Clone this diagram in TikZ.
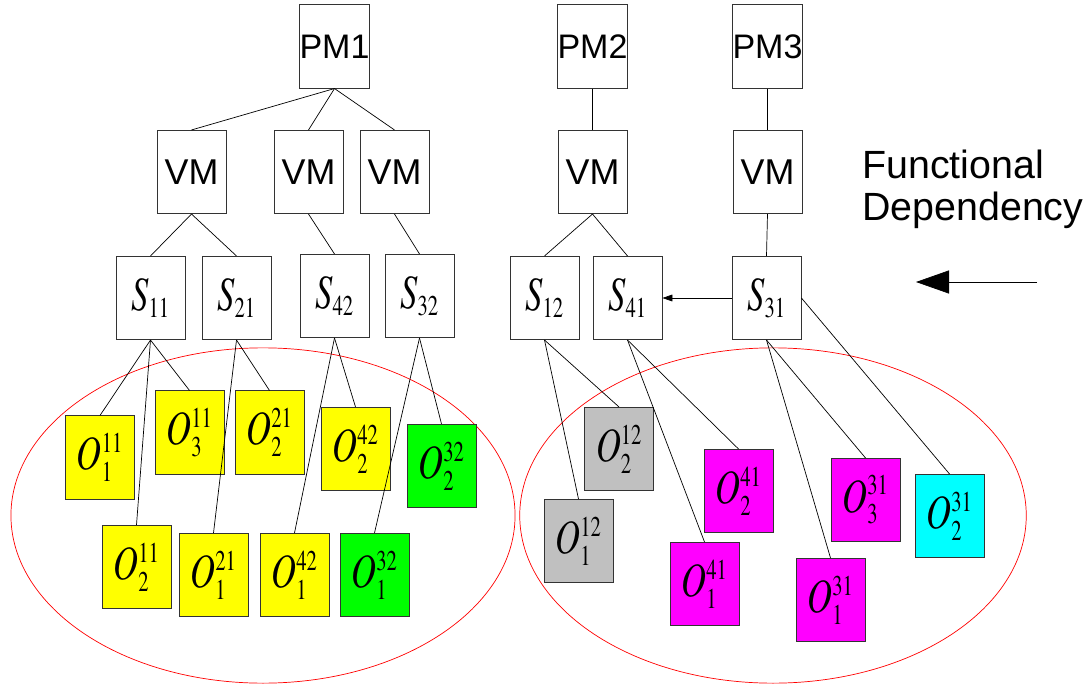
\documentclass[tikz,border=0pt]{standalone}
\usepackage{mathptmx}
\usepackage[no-math]{fontspec}
\setsansfont{Liberation Sans}
\usepackage{graphicx}
\usetikzlibrary{arrows.meta}

\definecolor{objyellow}{RGB}{255,255,0}
\definecolor{objgreen}{RGB}{0,255,0}
\definecolor{objgray}{RGB}{192,192,192}
\definecolor{objmagenta}{RGB}{255,0,255}
\definecolor{objcyan}{RGB}{0,255,255}
\definecolor{groupred}{RGB}{255,0,0}

\newcommand{\serv}[1]{\scalebox{0.72}[1]{\fontsize{34}{34}\selectfont$S_{\scriptscriptstyle #1}$}}
\newcommand{\obj}[2]{\scalebox{0.72}[1]{\fontsize{34}{34}\selectfont$O^{\scriptscriptstyle #1}_{\scriptscriptstyle #2}$}}

\begin{document}
\begin{tikzpicture}[x=0.025cm, y=-0.025cm,
    box/.style={draw=black!80, line width=0.6pt, rectangle, inner sep=0pt, minimum width=1.725cm, minimum height=2.08cm},
    pmbox/.style={box, font=\sffamily\fontsize{24.2}{26}\selectfont},
    vmbox/.style={box, font=\sffamily\fontsize{25.5}{27}\selectfont},
    obox/.style={box, fill=#1},
    link/.style={line width=0.5pt}]
    \useasboundingbox (0,0) rectangle (1091,689);

    % Groups
    \draw[groupred, line width=0.5pt] (263,515.5) ellipse [x radius=6.3cm, y radius=4.19cm];
    \draw[groupred, line width=0.5pt] (773,515.5) ellipse [x radius=6.33cm, y radius=4.19cm];

    % Physical machines
    \node[pmbox] (pm1) at (334.5,46.5) {PM1};
    \node[pmbox] (pm2) at (592.5,46.5) {PM2};
    \node[pmbox] (pm3) at (767.5,46.5) {PM3};

    % Virtual machines
    \node[vmbox] (vm1) at (191.5,172) {VM};
    \node[vmbox] (vm2) at (308.5,172) {VM};
    \node[vmbox] (vm3) at (394.5,172) {VM};
    \node[vmbox] (vm4) at (592.5,172) {VM};
    \node[vmbox] (vm5) at (767.5,172) {VM};

    % Services
    \node[box] (s11) at (150.5,298) {\serv{11}};
    \node[box] (s21) at (236.5,298) {\serv{21}};
    \node[box] (s42) at (334.5,296) {\serv{42}};
    \node[box] (s32) at (419.5,296) {\serv{32}};
    \node[box] (s12) at (544.5,298) {\serv{12}};
    \node[box] (s41) at (627.5,298) {\serv{41}};
    \node[box] (s31) at (766.5,298) {\serv{31}};

    % Objects, left group
    \path (100,457.5) node[obox=objyellow] (o111) {\obj{11}{1}};
    \path (189.5,432.5) node[obox=objyellow] (o113) {\obj{11}{3}};
    \path (269.5,432.5) node[obox=objyellow] (o212) {\obj{21}{2}};
    \path (355.5,449) node[obox=objyellow] (o422) {\obj{42}{2}};
    \path (441.5,466) node[obox=objgreen] (o322) {\obj{32}{2}};
    \path (136.5,567) node[obox=objyellow] (o112) {\obj{11}{2}};
    \path (213.5,575) node[obox=objyellow] (o211) {\obj{21}{1}};
    \path (294.5,575) node[obox=objyellow] (o421) {\obj{42}{1}};
    \path (374.5,575) node[obox=objgreen] (o321) {\obj{32}{1}};

    % Objects, right group
    \path (619,449) node[obox=objgray] (o122) {\obj{12}{2}};
    \path (578.5,541) node[obox=objgray] (o121) {\obj{12}{1}};
    \path (738.5,491) node[obox=objmagenta] (o412) {\obj{41}{2}};
    \path (704.5,584) node[obox=objmagenta] (o411) {\obj{41}{1}};
    \path (865.5,500) node[obox=objmagenta] (o313) {\obj{31}{3}};
    \path (949.5,516) node[obox=objcyan] (o312) {\obj{31}{2}};
    \path (830.5,600) node[obox=objmagenta] (o311) {\obj{31}{1}};

    % Links
    \foreach \a/\b in {pm1/vm1, pm1/vm2, pm1/vm3, pm2/vm4, pm3/vm5,
                       vm1/s11, vm1/s21, vm2/s42, vm3/s32, vm4/s12, vm4/s41, vm5/s31,
                       s11/o111, s11/o113, s11/o112, s21/o212, s21/o211,
                       s42/o422, s42/o421, s32/o322, s32/o321,
                       s12/o121, s12/o122, s41/o411, s41/o412, s31/o311, s31/o313}
        \draw[link] (\a.south) -- (\b.north);
    \draw[link] (s31.east) -- (o312.north);

    % Dependency
    \draw[link, -{Triangle[length=0.25cm, width=0.17cm]}] (s31) -- (s41);

    % Legend
    \node[anchor=north west, inner sep=0pt, align=left, font=\sffamily\fontsize{28}{29.3}\selectfont] (fdtext) at (862,150) {Functional\\Dependency};
    \coordinate (fdstart) at (1037,282);
    \coordinate (fdend) at (916,282);
    \draw[link, -{Triangle[length=0.83cm, width=0.58cm]}] (fdstart) -- (fdend);
\end{tikzpicture}
\end{document}
